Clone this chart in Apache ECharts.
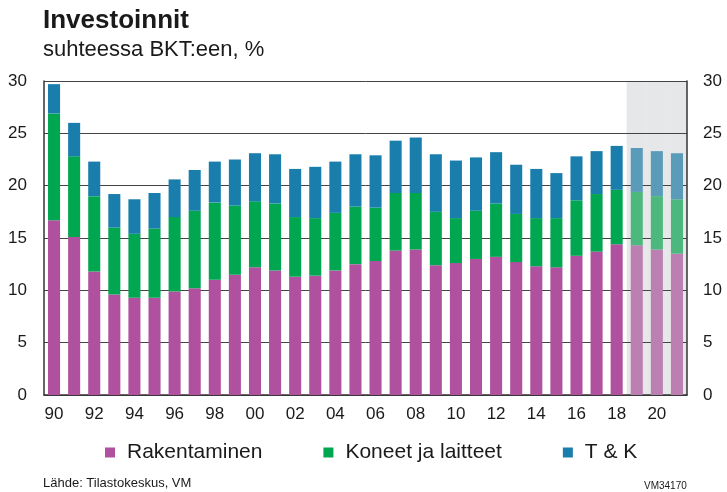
<!DOCTYPE html>
<html>
<head>
<meta charset="utf-8">
<script src="https://cdn.jsdelivr.net/npm/echarts@6/dist/echarts.min.js"></script>
<style>
  html, body { margin: 0; padding: 0; background: #fff; }
  #chart { width: 727px; height: 492px; }
</style>
</head>
<body>
<div id="chart"></div>
<script>
// vuodet 1990-2021, ennuste 2019-
const years = ['90','91','92','93','94','95','96','97','98','99','00','01','02','03','04','05',
  '06','07','08','09','10','11','12','13','14','15','16','17','18','19','20','21'];
const rakentaminen = [16.7,15.1,11.8,9.6,9.3,9.3,9.9,10.2,11.0,11.5,12.2,11.9,11.3,11.4,11.9,12.5,
  12.8,13.8,13.9,12.4,12.6,13.0,13.2,12.7,12.3,12.2,13.3,13.7,14.4,14.3,13.9,13.5];
const koneet = [10.2,7.7,7.2,6.4,6.1,6.6,7.1,7.4,7.4,6.6,6.3,6.4,5.7,5.5,5.5,5.5,
  5.1,5.5,5.4,5.1,4.3,4.6,5.1,4.6,4.6,4.7,5.3,5.5,5.2,5.1,5.1,5.2];
const tk = [2.8,3.2,3.3,3.2,3.3,3.4,3.6,3.9,3.9,4.4,4.6,4.7,4.6,4.9,4.9,5.0,
  5.0,5.0,5.3,5.5,5.5,5.1,4.9,4.7,4.7,4.3,4.2,4.1,4.2,4.2,4.3,4.4];
const firstForecast = years.indexOf('19');
const yTicks = [0, 5, 10, 15, 20, 25, 30];

const colors = {
  rak: ['#b0519f', '#bb7fb1'],
  kon: ['#00a650', '#4db87e'],
  tk:  ['#1a7ead', '#5b9bba']
};

function withForecast(values, pair) {
  return values.map((v, i) => ({
    value: v,
    itemStyle: { color: i >= firstForecast ? pair[1] : pair[0] }
  }));
}

let myChart = echarts.init(document.getElementById('chart'));
const font = 'Liberation Sans, Arial, sans-serif';
let option = {
  animation: false,
  textStyle: { fontFamily: font, color: '#1a1a1a' },
  title: [
    { text: 'Investoinnit', left: 38, top: 3,
      textStyle: { fontSize: 26, fontWeight: 'bold', color: '#1a1a1a', fontFamily: font } },
    { text: 'suhteessa BKT:een, %', left: 38, top: 34,
      textStyle: { fontSize: 22, fontWeight: 'normal', color: '#1a1a1a', fontFamily: font } },
    { text: 'Lähde: Tilastokeskus, VM', left: 38, top: 472,
      textStyle: { fontSize: 13, fontWeight: 'normal', color: '#1a1a1a', fontFamily: font } },
    { text: 'VM34170', left: 639, top: 476,
      textStyle: { fontSize: 10, fontWeight: 'normal', color: '#1a1a1a', fontFamily: font } }
  ],
  legend: {
    top: 437,
    left: 100,
    itemWidth: 10,
    itemHeight: 10,
    itemGap: 61,
    icon: 'rect',
    textStyle: { fontSize: 21, color: '#1a1a1a', fontFamily: font, padding: [0, 0, 0, 7] },
    data: ['Rakentaminen', 'Koneet ja laitteet', 'T & K']
  },
  grid: { left: 44, right: 40, top: 81, bottom: 97 },
  xAxis: [
    {
      type: 'category',
      data: years,
      axisTick: { show: false },
      axisLine: { lineStyle: { color: '#333', width: 1.5 } },
      axisLabel: { interval: 1, fontSize: 17, color: '#1a1a1a', margin: 11 }
    },
    {
      type: 'category',
      data: years,
      show: false
    }
  ],
  yAxis: [
    {
      type: 'value', min: 0, max: 30, interval: 5,
      axisLine: { show: true, lineStyle: { color: '#333', width: 1.5 } },
      axisTick: { show: false },
      splitLine: { lineStyle: { color: '#444', width: 1 } },
      axisLabel: { fontSize: 17, color: '#1a1a1a', margin: 17 }
    },
    {
      type: 'value', min: 0, max: 30, interval: 5, position: 'right',
      axisLine: { show: true, lineStyle: { color: '#333', width: 1.5 } },
      axisTick: { show: false },
      splitLine: { show: false },
      axisLabel: { fontSize: 17, color: '#1a1a1a', margin: 16 }
    }
  ],
  series: [
    {
      name: 'ennuste',
      type: 'bar',
      xAxisIndex: 1,
      barWidth: '100%',
      z: -1,
      silent: true,
      itemStyle: { color: '#e6e7e8' },
      data: years.map((y, i) => i >= firstForecast ? yTicks[yTicks.length - 1] : null)
    },
    {
      name: 'Rakentaminen', type: 'bar', stack: 'inv', barWidth: '60%',
      itemStyle: { color: colors.rak[0] },
      data: withForecast(rakentaminen, colors.rak)
    },
    {
      name: 'Koneet ja laitteet', type: 'bar', stack: 'inv',
      itemStyle: { color: colors.kon[0] },
      data: withForecast(koneet, colors.kon)
    },
    {
      name: 'T & K', type: 'bar', stack: 'inv',
      itemStyle: { color: colors.tk[0] },
      data: withForecast(tk, colors.tk)
    }
  ]
};
myChart.setOption(option);
</script>
</body>
</html>
